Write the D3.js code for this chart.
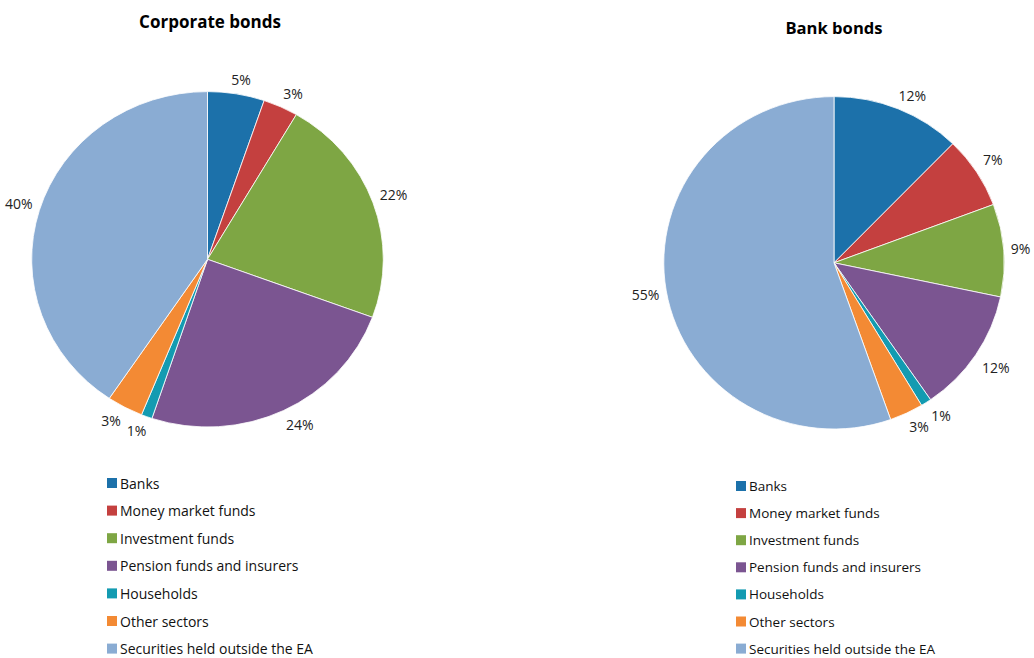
<!DOCTYPE html>
<html><head><meta charset="utf-8">
<script src="https://cdn.jsdelivr.net/npm/d3@7"></script>
<style>body{margin:0;background:#fff}svg{display:block}</style>
</head><body>
<svg id="c" width="1034" height="658"></svg>
<script>
const categories = ["Banks","Money market funds","Investment funds","Pension funds and insurers","Households","Other sectors","Securities held outside the EA"];
const corporateValues = [5.2, 3.2, 22.1, 24.4, 1.0, 3.3, 40.4];
const corporateLabels = ["5%","3%","22%","24%","1%","3%","40%"];
const bankValues = [12.3, 7.0, 9.0, 12.1, 1.0, 3.2, 55.4];
const bankLabels = ["12%","7%","9%","12%","1%","3%","55%"];
const colors = ["#1c71aa","#c4403f","#7ea644","#7b5591","#139bb1","#f38a34","#8aacd3"];

const svg = d3.select("#c");
const color = d3.scaleOrdinal().domain(categories).range(colors);
const font = "Open Sans, Liberation Sans, sans-serif";
const clamp = v => Math.max(-1, Math.min(1, v));

function drawPie(cfg){
  const g = svg.append("g").attr("transform",`translate(${cfg.cx},${cfg.cy})`);
  const pie = d3.pie().sort(null).value(d=>d.v);
  const data = pie(categories.map((c,i)=>({c, v:cfg.values[i], l:cfg.labels[i]})));
  const arc = d3.arc().innerRadius(0).outerRadius(cfg.ry);
  g.append("g").attr("transform",`scale(${cfg.rx/cfg.ry},1)`)
    .selectAll("path").data(data).join("path")
    .attr("d",arc).attr("fill",d=>color(d.data.c))
    .attr("stroke","#fff").attr("stroke-width",0.8).attr("vector-effect","non-scaling-stroke");
  const lbl = g.selectAll("text").data(data).join("text")
    .attr("font-family",font).attr("font-size",14).attr("fill","#222")
    .attr("text-anchor","middle").attr("dominant-baseline","central")
    .text(d=>d.data.l);
  lbl.each(function(d){
    const a=(d.startAngle+d.endAngle)/2;
    const s=Math.sin(a), c=-Math.cos(a);
    const bb=this.getBBox();
    const hw=bb.width/2+3, hh=10;
    const m=4;
    const x=cfg.rx*s + clamp(s/0.5)*hw + s*m;
    const y=cfg.ry*c + clamp(c/0.5)*hh + c*m;
    d3.select(this).attr("x",x).attr("y",y);
  });
  svg.append("text").attr("x",cfg.tx).attr("y",cfg.ty)
    .attr("font-family",font).attr("font-size",cfg.tfs).attr("font-weight","bold")
    .attr("text-anchor","middle").attr("fill","#000").text(cfg.title);
  const lg = svg.append("g").attr("transform",`translate(${cfg.lx},${cfg.ly})`);
  const rows = lg.selectAll("g").data(categories).join("g")
    .attr("transform",(d,i)=>`translate(0,${i*cfg.lstep})`);
  rows.append("rect").attr("x",0).attr("y",-5).attr("width",10).attr("height",10).attr("fill",d=>color(d));
  rows.append("text").attr("x",13).attr("y",0).attr("dominant-baseline","central")
    .attr("font-family",font).attr("font-size",cfg.lfs).attr("fill","#111").text(d=>d);
}

drawPie({cx:207.5, cy:259.3, rx:175.8, ry:167.7, values:corporateValues, labels:corporateLabels,
  title:"Corporate bonds", tx:210, ty:28, tfs:17, lx:107, ly:483, lstep:27.6, lfs:14});
drawPie({cx:834, cy:262.8, rx:170.2, ry:166.2, values:bankValues, labels:bankLabels,
  title:"Bank bonds", tx:834, ty:34, tfs:16.6, lx:736, ly:486, lstep:27.1, lfs:13.5});
</script>
</body></html>
